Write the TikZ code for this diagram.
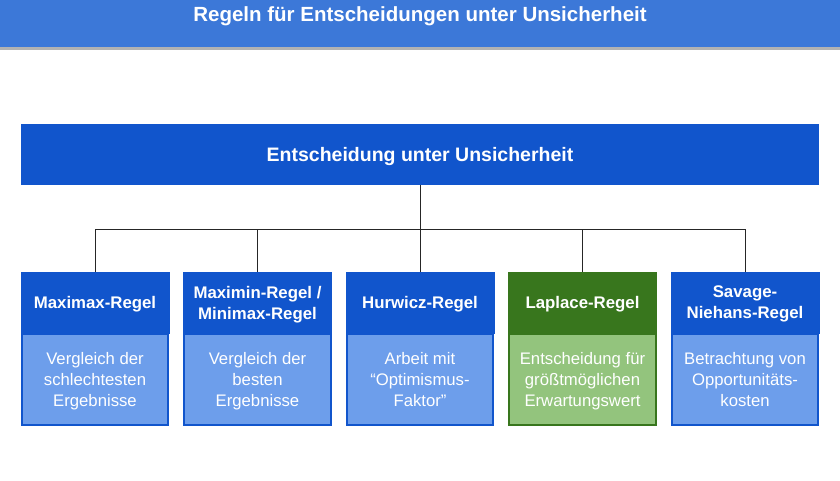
\documentclass[tikz,border=0pt]{standalone}
\usepackage{fontspec}
\setmainfont{Liberation Sans}
\usetikzlibrary{positioning}
\definecolor{leiste}{HTML}{3C78D8}
\definecolor{dunkelblau}{HTML}{1155CC}
\definecolor{hellblau}{HTML}{6D9EEB}
\definecolor{dunkelgruen}{HTML}{38761D}
\definecolor{hellgruen}{HTML}{93C47D}
\tikzset{
  kopf/.style={draw=#1,fill=#1,line width=0.8pt,text=white,minimum width=148pt,minimum height=61pt,
    inner sep=0pt,align=center,text depth=0pt,font=\fontsize{16.8}{21}\selectfont\bfseries},
  rumpf/.style={draw=#1,line width=1.6pt,text=white,minimum width=146.5pt,minimum height=90.5pt,
    inner sep=0pt,align=center,text depth=0pt,font=\fontsize{16.7}{21}\selectfont},
  verbinder/.style={draw=black!85,line width=1pt}
}

\begin{document}
\begin{tikzpicture}[x=1pt,y=-1pt,every text node part/.style={align=center}]
\useasboundingbox (0,0) rectangle (840,480);

%%%%%%%%%%%%%%%%%%%%%%%%%%%%%%%%%%%%%%

\fill[black!30] (0,2) rectangle (840,49.5);
\fill[leiste] (0,0) rectangle (840,46.5);
\node[text=white,font=\fontsize{20.5}{22}\selectfont\bfseries] (titel) at (420,16) {Regeln für Entscheidungen unter Unsicherheit};

%%%%%%%%%%%%%%%%%%%%%%%%%%%%%%%%%%%%%%

\node[fill=dunkelblau,minimum width=798pt,minimum height=61pt,inner sep=0pt,text=white,text depth=0pt,
  font=\fontsize{19.5}{22}\selectfont\bfseries] (haupt) at (420,154.5) {Entscheidung unter Unsicherheit};

\node[kopf=dunkelblau] (k1) at (95,302.5) {Maximax-Regel};
\node[kopf=dunkelblau] (k2) at (257.5,302.5) {Maximin-Regel /\\Minimax-Regel};
\node[kopf=dunkelblau] (k3) at (420,302.5) {Hurwicz-Regel};
\node[kopf=dunkelgruen] (k4) at (582.5,302.5) {Laplace-Regel};
\node[kopf=dunkelblau] (k5) at (745,302.5) {Savage-\\Niehans-Regel};

\node[rumpf=dunkelblau,fill=hellblau,below=0pt of k1] (r1) {Vergleich der\\schlechtesten\\Ergebnisse};
\node[rumpf=dunkelblau,fill=hellblau,below=0pt of k2] (r2) {Vergleich der\\besten\\Ergebnisse};
\node[rumpf=dunkelblau,fill=hellblau,below=0pt of k3] (r3) {Arbeit mit\\“Optimismus-\\Faktor”};
\node[rumpf=dunkelgruen,fill=hellgruen,below=0pt of k4] (r4) {Entscheidung für\\größtmöglichen\\Erwartungswert};
\node[rumpf=dunkelblau,fill=hellblau,below=0pt of k5] (r5) {Betrachtung von\\Opportunitäts-\\kosten};

%%%%%%%%%%%%%%%%%%%%%%%%%%%%%%%%%%%%%%

\coordinate (gabel) at (420,229);
\draw[verbinder] (haupt.south) -- (gabel);
\foreach \i in {1,...,5}
  \draw[verbinder] (gabel) -| (k\i.north);

\end{tikzpicture}
\end{document}
